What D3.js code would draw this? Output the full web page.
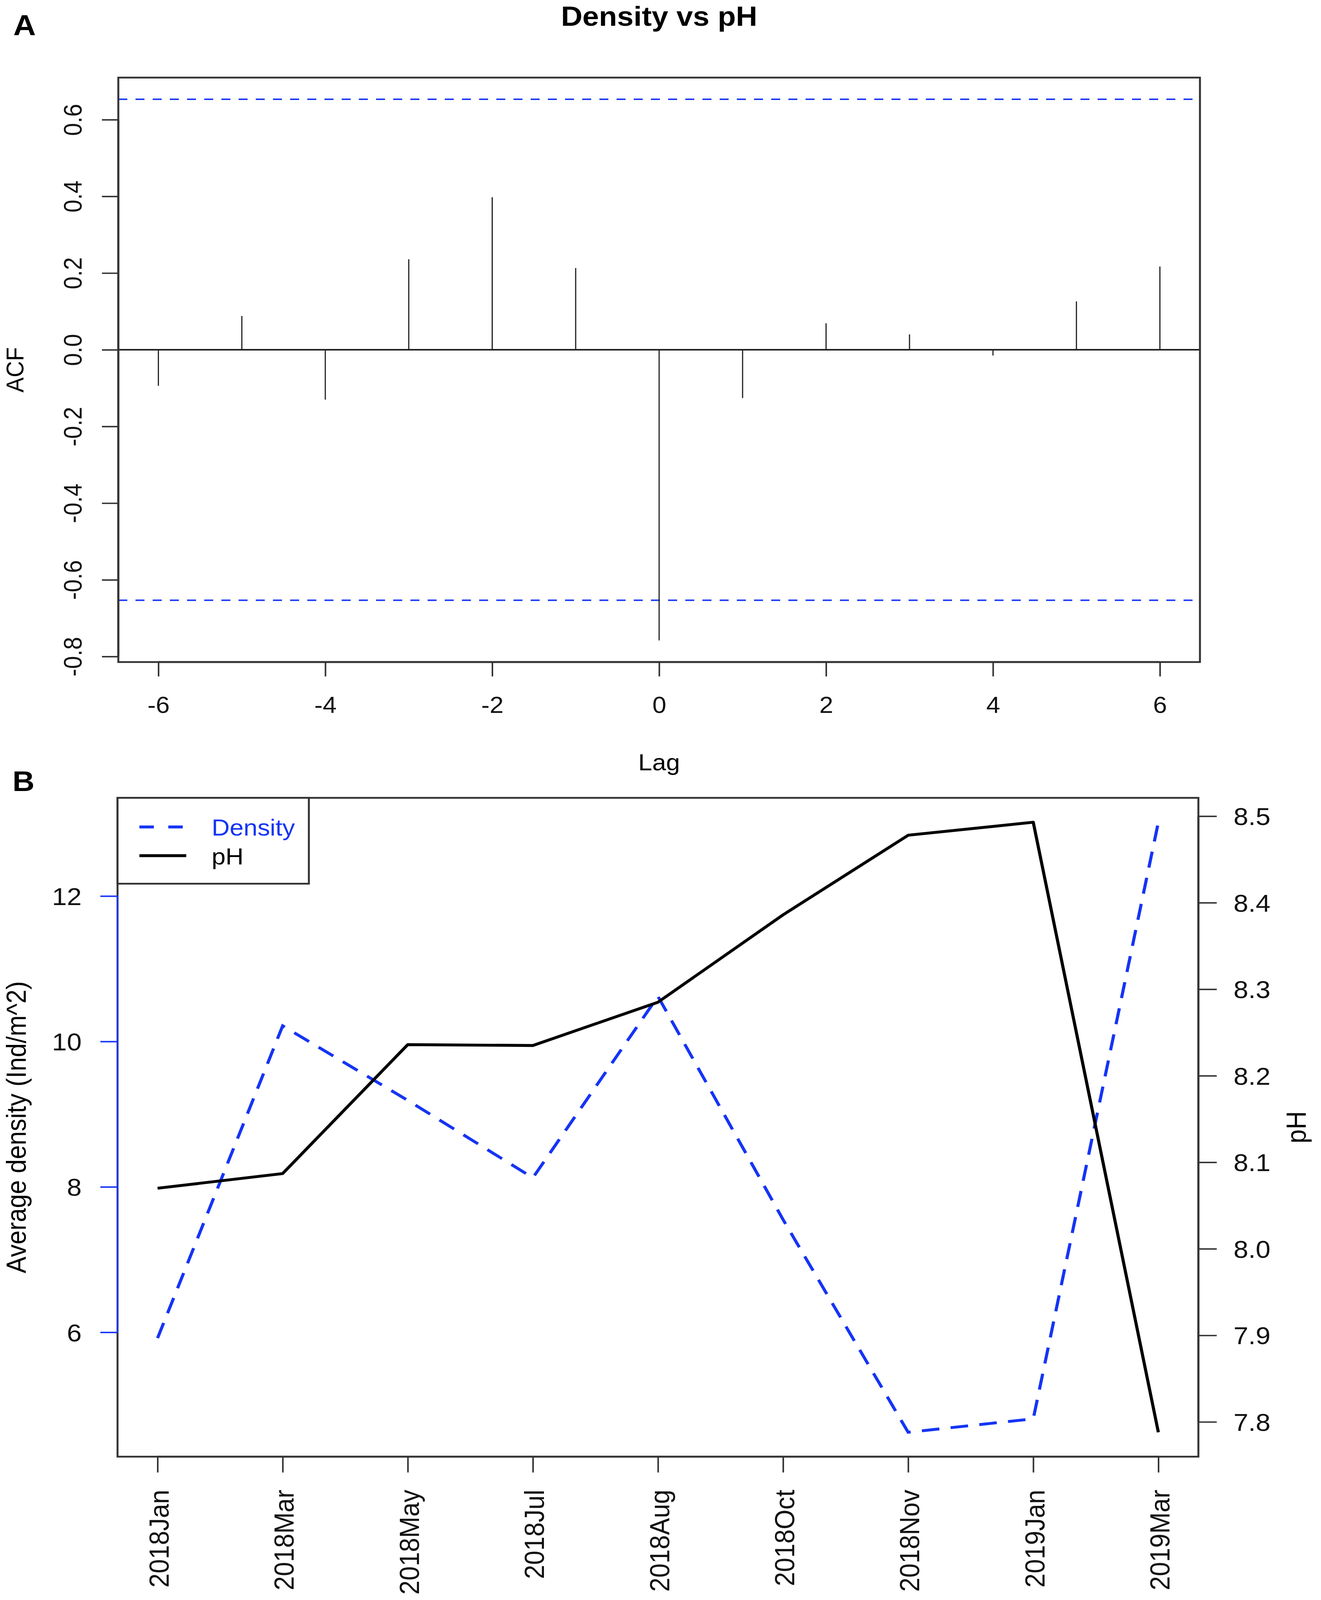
<!DOCTYPE html>
<html>
<head>
<meta charset="utf-8">
<script src="https://cdn.jsdelivr.net/npm/d3@7"></script>
<style>
html, body { margin: 0; padding: 0; background: #fff; width: 100%; height: 100%; overflow: hidden; }
#chart-area { width: 100vw; height: 100vh; }
svg { display: block; }
</style>
</head>
<body>
<div id="chart-area"></div>
<script>
// panel A - cross correlation of density and pH
var lags = [-6, -5, -4, -3, -2, -1, 0, 1, 2, 3, 4, 5, 6];
var acfValues = [-0.094, 0.088, -0.130, 0.236, 0.398, 0.213, -0.758, -0.126, 0.069, 0.040, -0.015, 0.126, 0.217];
var ciLimit = 0.6533;
var acfTicks = [-0.8, -0.6, -0.4, -0.2, 0, 0.2, 0.4, 0.6];
var lagTicks = [-6, -4, -2, 0, 2, 4, 6];

// panel B - monthly series
var months = ["2018Jan", "2018Mar", "2018May", "2018Jul", "2018Aug", "2018Oct", "2018Nov", "2019Jan", "2019Mar"];
var density = [5.92, 10.215, 9.19, 8.125, 10.62, 7.55, 4.625, 4.81, 13.015];
var ph = [8.070, 8.087, 8.236, 8.235, 8.285, 8.386, 8.478, 8.493, 7.788];
var densityTicks = [6, 8, 10, 12];
var phTicks = [7.8, 7.9, 8.0, 8.1, 8.2, 8.3, 8.4, 8.5];

var FONT = "'Liberation Sans', Arial, Helvetica, sans-serif";
var BLUE = "#1534f5";
var INK = "#333";
var W = 3383, H = 4454;

// R pads the axis range by 4% each side
function rExtend(lo, hi) {
  var d = (hi - lo) * 0.04;
  return [lo - d, hi + d];
}
function fmt1(d) { return d.toFixed(1); }

// drawn in a 3383x4454 frame, stretched to whatever the viewport is
var svg = d3.select("#chart-area").append("svg")
  .attr("viewBox", "0 0 " + W + " " + H)
  .attr("preserveAspectRatio", "none")
  .attr("width", "100%").attr("height", "100%")
  .style("background", "#fff");

/* ---------------- panel A ---------------- */
var A = { left: 303, right: 3073, top: 216, bottom: 1843 };

var ax = d3.scaleLinear().domain(rExtend(-6, 6)).range([A.left, A.right]);
var ay = d3.scaleLinear()
  .domain(rExtend(Math.min(d3.min(acfValues), -ciLimit), Math.max(d3.max(acfValues), ciLimit)))
  .range([A.bottom, A.top]);

svg.append("text").attr("x", 34).attr("y", 98)
  .attr("font-family", FONT).attr("font-weight", "bold").attr("font-size", 80)
  .text("A");

svg.append("text").attr("x", 1688).attr("y", 72)
  .attr("font-family", FONT).attr("font-weight", "bold").attr("font-size", 76)
  .attr("text-anchor", "middle")
  .text("Density vs pH");

// confidence bounds
svg.selectAll("line.ci").data([ciLimit, -ciLimit]).enter().append("line")
  .attr("class", "ci")
  .attr("x1", A.left).attr("x2", A.right)
  .attr("y1", function (d) { return ay(d); })
  .attr("y2", function (d) { return ay(d); })
  .attr("stroke", BLUE).attr("stroke-width", 4)
  .attr("stroke-dasharray", "23,21");

// zero line
svg.append("line")
  .attr("x1", A.left).attr("x2", A.right)
  .attr("y1", ay(0)).attr("y2", ay(0))
  .attr("stroke", "#111").attr("stroke-width", 4);

// acf spikes
svg.selectAll("line.spike").data(lags).enter().append("line")
  .attr("class", "spike")
  .attr("x1", function (d) { return ax(d); })
  .attr("x2", function (d) { return ax(d); })
  .attr("y1", ay(0))
  .attr("y2", function (d, i) { return ay(acfValues[i]); })
  .attr("stroke", "#222").attr("stroke-width", 3);

svg.append("rect")
  .attr("x", A.left).attr("y", A.top)
  .attr("width", A.right - A.left).attr("height", A.bottom - A.top)
  .attr("fill", "none").attr("stroke", INK).attr("stroke-width", 5);

var axA = svg.append("g").attr("transform", "translate(0," + A.bottom + ")")
  .call(d3.axisBottom(ax).tickValues(lagTicks).tickSize(40).tickPadding(0).tickFormat(function (d) { return String(d); }));
axA.select(".domain").remove();
axA.append("line").attr("x1", ax(-6)).attr("x2", ax(6)).attr("stroke", INK).attr("stroke-width", 5);
axA.selectAll(".tick line").attr("stroke", INK).attr("stroke-width", 4);
axA.selectAll(".tick text")
  .attr("font-family", FONT).attr("font-size", 64).attr("fill", "#111")
  .attr("y", 142).attr("dy", 0);

var ayA = svg.append("g").attr("transform", "translate(" + A.left + ",0)")
  .call(d3.axisLeft(ay).tickValues(acfTicks).tickSize(42).tickFormat(fmt1));
ayA.select(".domain").remove();
ayA.append("line").attr("y1", ay(-0.8)).attr("y2", ay(0.6)).attr("stroke", INK).attr("stroke-width", 5);
ayA.selectAll(".tick line").attr("stroke", INK).attr("stroke-width", 4);
ayA.selectAll(".tick text")
  .attr("font-family", FONT).attr("font-size", 64).attr("fill", "#111")
  .attr("text-anchor", "middle")
  .attr("transform", "rotate(-90)")
  .attr("x", 0).attr("y", -94).attr("dy", 0);

svg.append("text").attr("x", 1688).attr("y", 2144)
  .attr("font-family", FONT).attr("font-size", 64).attr("text-anchor", "middle")
  .text("Lag");

svg.append("text")
  .attr("transform", "translate(60," + ((A.top + A.bottom) / 2) + ") rotate(-90)")
  .attr("font-family", FONT).attr("font-size", 63).attr("text-anchor", "middle")
  .text("ACF");

/* ---------------- panel B ---------------- */
var B = { left: 301, right: 3069, top: 2221, bottom: 4055 };

var bx = d3.scaleLinear().domain(rExtend(1, months.length)).range([B.left, B.right]);
var byL = d3.scaleLinear().domain(rExtend(d3.min(density), d3.max(density))).range([B.bottom, B.top]);
var byR = d3.scaleLinear().domain(rExtend(d3.min(ph), d3.max(ph))).range([B.bottom, B.top]);

svg.append("text").attr("x", 32).attr("y", 2202)
  .attr("font-family", FONT).attr("font-weight", "bold").attr("font-size", 78)
  .text("B");

var densityLine = d3.line()
  .x(function (d, i) { return bx(i + 1); })
  .y(function (d) { return byL(d); });
var phLine = d3.line()
  .x(function (d, i) { return bx(i + 1); })
  .y(function (d) { return byR(d); });

svg.append("path").datum(density)
  .attr("d", densityLine)
  .attr("fill", "none").attr("stroke", BLUE).attr("stroke-width", 8)
  .attr("stroke-dasharray", "45,29");

svg.append("path").datum(ph)
  .attr("d", phLine)
  .attr("fill", "none").attr("stroke", "#000").attr("stroke-width", 8)
  .attr("stroke-linejoin", "round");

svg.append("rect")
  .attr("x", B.left).attr("y", B.top)
  .attr("width", B.right - B.left).attr("height", B.bottom - B.top)
  .attr("fill", "none").attr("stroke", INK).attr("stroke-width", 5);

// left axis (density), blue
var ayL = svg.append("g").attr("transform", "translate(" + B.left + ",0)")
  .call(d3.axisLeft(byL).tickValues(densityTicks).tickSize(44).tickPadding(48).tickFormat(String));
ayL.select(".domain").remove();
ayL.append("line").attr("y1", byL(6)).attr("y2", byL(12)).attr("stroke", BLUE).attr("stroke-width", 4);
ayL.selectAll(".tick line").attr("stroke", BLUE).attr("stroke-width", 4);
ayL.selectAll(".tick text")
  .attr("font-family", FONT).attr("font-size", 68).attr("fill", "#111")
  .attr("dy", "0.36em");

// right axis (pH)
var ayR = svg.append("g").attr("transform", "translate(" + B.right + ",0)")
  .call(d3.axisRight(byR).tickValues(phTicks).tickSize(47).tickPadding(43).tickFormat(fmt1));
ayR.select(".domain").remove();
ayR.append("line").attr("y1", byR(7.8)).attr("y2", byR(8.5)).attr("stroke", INK).attr("stroke-width", 5);
ayR.selectAll(".tick line").attr("stroke", INK).attr("stroke-width", 4);
ayR.selectAll(".tick text")
  .attr("font-family", FONT).attr("font-size", 68).attr("fill", "#111")
  .attr("dy", "0.36em");

// bottom axis with rotated month labels
var axB = svg.append("g").attr("transform", "translate(0," + B.bottom + ")")
  .call(d3.axisBottom(bx).tickValues(d3.range(1, months.length + 1)).tickSize(44)
    .tickFormat(function (d) { return months[d - 1]; }));
axB.select(".domain").remove();
axB.append("line").attr("x1", bx(1)).attr("x2", bx(months.length)).attr("stroke", INK).attr("stroke-width", 5);
axB.selectAll(".tick line").attr("stroke", INK).attr("stroke-width", 4);
axB.selectAll(".tick text")
  .attr("font-family", FONT).attr("font-size", 71).attr("fill", "#111")
  .attr("text-anchor", "end")
  .attr("transform", "rotate(-90)")
  .attr("x", -92).attr("y", 28).attr("dy", 0);

svg.append("text")
  .attr("transform", "translate(66," + ((B.top + B.bottom) / 2) + ") rotate(-90)")
  .attr("font-family", FONT).attr("font-size", 70).attr("text-anchor", "middle")
  .text("Average density (Ind/m^2)");

svg.append("text")
  .attr("transform", "translate(3344," + ((B.top + B.bottom) / 2) + ") rotate(-90)")
  .attr("font-family", FONT).attr("font-size", 70).attr("text-anchor", "middle")
  .text("pH");

// legend
var legend = svg.append("g").attr("transform", "translate(" + B.left + "," + B.top + ")");
legend.append("rect")
  .attr("width", 490).attr("height", 239)
  .attr("fill", "#fff").attr("stroke", INK).attr("stroke-width", 5);
var legendItems = [
  { name: "Density", color: BLUE, dash: "37,37" },
  { name: "pH", color: "#000", dash: null }
];
legendItems.forEach(function (item, i) {
  var row = legend.append("g").attr("transform", "translate(0," + (81 + i * 80) + ")");
  row.append("line")
    .attr("x1", 56).attr("x2", 176)
    .attr("stroke", item.color).attr("stroke-width", 8)
    .attr("stroke-dasharray", item.dash);
  row.append("text")
    .attr("x", 241).attr("y", 24)
    .attr("font-family", FONT).attr("font-size", 64)
    .attr("fill", item.color)
    .text(item.name);
});
</script>
</body>
</html>
